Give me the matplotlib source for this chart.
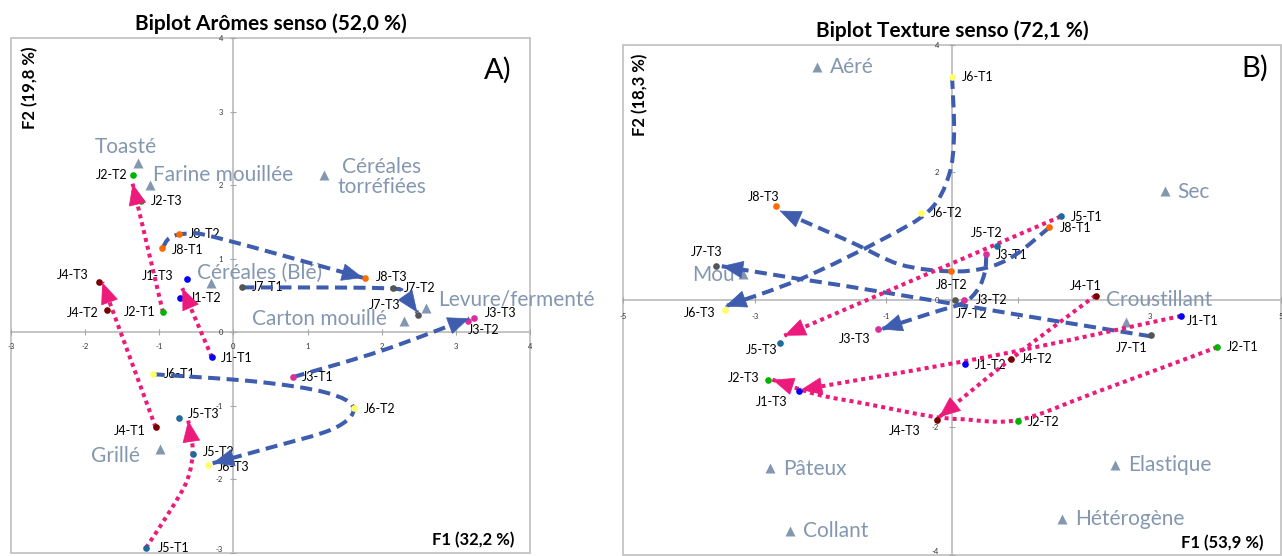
import matplotlib.pyplot as plt
from matplotlib.path import Path
from matplotlib.patches import PathPatch, Rectangle

plt.rcParams['font.family'] = ['Lato', 'DejaVu Sans']

# ---------------- A) Biplot aromes ----------------
a_obs = ["J1-T1", "J1-T2", "J1-T3", "J2-T1", "J2-T2", "J2-T3",
         "J3-T1", "J3-T2", "J3-T3", "J4-T1", "J4-T2", "J4-T3",
         "J5-T1", "J5-T2", "J5-T3", "J6-T1", "J6-T2", "J6-T3",
         "J7-T1", "J7-T2", "J7-T3", "J8-T1", "J8-T2", "J8-T3"]
a_x = [-0.29, -0.72, -0.63, -0.95, -1.35, -1.25,
       0.80, 3.16, 3.24, -1.05, -1.71, -1.82,
       -1.18, -0.55, -0.73, -1.09, 1.62, -0.34,
       0.12, 2.15, 2.49, -0.96, -0.73, 1.77]
a_y = [-0.34, 0.46, 0.72, 0.27, 2.14, 1.78,
       -0.61, 0.16, 0.20, -1.29, 0.30, 0.69,
       -2.93, -1.66, -1.17, -0.57, -1.03, -1.80,
       0.61, 0.60, 0.23, 1.14, 1.33, 0.74]

a_var = ["Toasté", "Farine mouillée", "Céréales\ntorréfiées", "Céréales (Blé)",
         "Carton mouillé", "Levure/fermenté", "Grillé"]
a_var_x = [-1.29, -1.13, 1.22, -0.30, 2.30, 2.60, -0.99]
a_var_y = [2.30, 2.00, 2.14, 0.67, 0.16, 0.33, -1.59]

# trajectories T1 -> T3 (waypoints)
a_blue = {
    "J8": ([-0.96, -0.85, -0.60, -0.20, 1.75], [1.14, 1.29, 1.34, 1.28, 0.74]),
    "J7": ([0.12, 2.00, 2.30, 2.48], [0.61, 0.60, 0.53, 0.27]),
    "J3": ([0.80, 2.00, 3.18], [-0.61, -0.25, 0.19]),
    "J6": ([-1.09, 0.30, 1.25, 1.62, 1.35, 0.45, -0.28],
           [-0.57, -0.67, -0.82, -1.03, -1.31, -1.58, -1.78]),
}
a_pink = {
    "J4": ([-1.05, -1.77], [-1.29, 0.68]),
    "J2": ([-0.95, -1.36], [0.27, 2.02]),
    "J1": ([-0.29, -0.69], [-0.34, 0.60]),
    "J5": ([-1.18, -0.85, -0.62, -0.55, -0.61], [-2.93, -2.42, -2.00, -1.60, -1.20]),
}

# ---------------- B) Biplot texture ----------------
b_obs = a_obs
b_x = [3.48, 0.20, -2.33, 4.03, 1.00, -2.80,
       0.52, 0.18, -1.12, 2.18, 0.89, -0.23,
       1.65, 0.68, -2.61, 0.00, -0.47, -3.45,
       3.02, 0.05, -3.58, 1.48, -0.02, -2.68]
b_y = [-0.25, -1.01, -1.43, -0.74, -1.90, -1.26,
       0.72, 0.00, -0.46, 0.07, -0.93, -1.89,
       1.31, 0.84, -0.68, 3.50, 1.36, -0.15,
       -0.55, 0.00, 0.53, 1.14, 0.45, 1.47]

b_var = ["Aéré", "Sec", "Mou", "Croustillant", "Pâteux", "Elastique", "Collant", "Hétérogène"]
b_var_x = [-2.05, 3.23, -3.18, 2.65, -2.77, 2.48, -2.47, 1.67]
b_var_y = [3.65, 1.71, 0.40, -0.35, -2.63, -2.59, -3.63, -3.43]

b_blue = {
    "J6": ([0.00, 0.03, -0.05, -0.35, -1.06, -2.30, -3.45],
           [3.50, 2.60, 1.95, 1.40, 0.95, 0.33, -0.10]),
    "J8": ([1.48, 0.95, 0.50, -0.05, -0.80, -1.56, -2.62],
           [1.14, 0.70, 0.50, 0.45, 0.56, 0.92, 1.40]),
    "J7": ([3.02, 1.58, 0.36, -1.56, -2.32, -3.50],
           [-0.57, -0.33, -0.12, 0.21, 0.33, 0.53]),
    "J3": ([0.52, 0.50, 0.40, 0.18, -0.30, -1.08],
           [0.72, 0.45, 0.18, -0.04, -0.20, -0.46]),
}
b_pink = {
    "J5": ([1.65, -2.55], [1.31, -0.56]),
    "J1": ([3.48, 0.60, -2.30], [-0.25, -0.88, -1.41]),
    "J2": ([4.03, 2.18, 1.02, 0.15, -0.35, -1.30, -2.06, -2.73],
           [-0.74, -1.45, -1.88, -1.87, -1.82, -1.63, -1.48, -1.25]),
    "J4": ([2.18, 0.89, -0.20], [0.07, -0.93, -1.84]),
}

# ---------------- styles ----------------
judge_col = {"J1": "#0000FF", "J2": "#00B300", "J3": "#D8309A", "J4": "#7A0000",
             "J5": "#1F6C9C", "J6": "#FFFF66", "J7": "#555555", "J8": "#FF6A00"}
BLUE = "#3F5DAE"
PINK = "#EC1A7A"
VARC = "#8497B0"

# label offsets in pixels (dx, dy, ha)
a_off = {"J1-T1": (9, -1, 'left'), "J1-T2": (10, 0, 'left'), "J1-T3": (-13, 3, 'right'),
         "J2-T1": (-8, 0, 'right'), "J2-T2": (-6, 0, 'right'), "J2-T3": (10, 0, 'left'),
         "J3-T1": (9, 0, 'left'), "J3-T2": (0, -9, 'left'), "J3-T3": (11, 5, 'left'),
         "J4-T1": (-10, -4, 'right'), "J4-T2": (-8, -3, 'right'), "J4-T3": (-10, 7, 'right'),
         "J5-T1": (12, 0, 'left'), "J5-T2": (10, 2, 'left'), "J5-T3": (9, 4, 'left'),
         "J6-T1": (11, 0, 'left'), "J6-T2": (10, -1, 'left'), "J6-T3": (10, -2, 'left'),
         "J7-T1": (10, 0, 'left'), "J7-T2": (11, 0, 'left'), "J7-T3": (-18, 10, 'right'),
         "J8-T1": (10, -2, 'left'), "J8-T2": (10, 0, 'left'), "J8-T3": (11, 1, 'left')}
b_off = {"J1-T1": (6, -5, 'left'), "J1-T2": (10, -1, 'left'), "J1-T3": (-11, -11, 'right'),
         "J2-T1": (10, 0, 'left'), "J2-T2": (10, -1, 'left'), "J2-T3": (-8, 2, 'right'),
         "J3-T1": (10, -1, 'left'), "J3-T2": (12, 0, 'left'), "J3-T3": (-8, -10, 'right'),
         "J4-T1": (-10, 10, 'center'), "J4-T2": (10, 0, 'left'), "J4-T3": (-16, -11, 'right'),
         "J5-T1": (10, -1, 'left'), "J5-T2": (-10, 13, 'center'), "J5-T3": (-3, -7, 'right'),
         "J6-T1": (10, 0, 'left'), "J6-T2": (10, 0, 'left'), "J6-T3": (-10, -3, 'right'),
         "J7-T1": (-19, -13, 'center'), "J7-T2": (1, -14, 'left'), "J7-T3": (-10, 14, 'center'),
         "J8-T1": (10, -1, 'left'), "J8-T2": (1, -14, 'center'), "J8-T3": (-12, 9, 'center')}
a_var_off = [(-12, 16, 'center'), (3, 10, 'left'), (58, -2, 'center'), (-14, 10, 'left'),
             (-17, 2, 'right'), (12, 8, 'left'), (-20, -7, 'right')]
b_var_off = [(13, 0, 'left'), (13, -1, 'left'), (-8, -1, 'right'), (-20, 22, 'left'),
             (13, -1, 'left'), (13, 0, 'left'), (13, 0, 'left'), (13, 0, 'left')]


def smooth(xs, ys):
    pts = list(zip(xs, ys))
    n = len(pts)
    verts, codes = [pts[0]], [Path.MOVETO]
    for i in range(n - 1):
        p0 = pts[i - 1] if i > 0 else pts[i]
        p1, p2 = pts[i], pts[i + 1]
        p3 = pts[i + 2] if i + 2 < n else pts[i + 1]
        c1 = (p1[0] + (p2[0] - p0[0]) / 6, p1[1] + (p2[1] - p0[1]) / 6)
        c2 = (p2[0] - (p3[0] - p1[0]) / 6, p2[1] - (p3[1] - p1[1]) / 6)
        verts += [c1, c2, p2]
        codes += [Path.CURVE4] * 3
    return Path(verts, codes)


def trajectory(ax, xs, ys, color, ls):
    ax.add_patch(PathPatch(smooth(xs, ys), fill=False, ec=color, lw=2.9, ls=ls,
                           zorder=3, capstyle='butt'))
    x1, y1, x0, y0 = xs[-1], ys[-1], xs[-2], ys[-2]
    d = ((x0 - x1) ** 2 + (y0 - y1) ** 2) ** 0.5
    ax.annotate('', xy=(x1, y1), xytext=(x1 + (x0 - x1) / d * 0.01, y1 + (y0 - y1) / d * 0.01),
                arrowprops=dict(arrowstyle='-|>,head_length=1.45,head_width=0.6',
                                mutation_scale=10, color=color, lw=0.5,
                                shrinkA=0, shrinkB=0), zorder=5)


def panel(ax, xlim, ylim, xt, yt, obs, xs, ys, off, var, vx, vy, voff, blue, pink,
          title, xlab, ylab, letter, tpad):
    ax.set_xlim(*xlim)
    ax.set_ylim(*ylim)
    for s in ['top', 'right']:
        ax.spines[s].set_visible(False)
    for s in ['left', 'bottom']:
        ax.spines[s].set_position(('data', 0))
        ax.spines[s].set_color('#BFBFBF')
        ax.spines[s].set_linewidth(1.3)
        ax.spines[s].set_zorder(1)
    ax.add_patch(Rectangle((0, 0), 1, 1, transform=ax.transAxes, fill=False,
                           ec='#BFBFBF', lw=1.2, clip_on=False, zorder=1))
    ax.set_xticks(xt)
    ax.set_yticks(yt)
    ax.set_xticklabels([f"{t:g}" for t in xt])
    ax.set_yticklabels([f"{t:g}" for t in yt])
    ax.tick_params(direction='inout', length=5, width=0.8, color='#A6A6A6',
                   labelsize=5.5, labelcolor='#333333', pad=tpad)
    # keep the lowest y tick label inside the figure
    ax.get_yticklabels()[0].set_va('bottom')

    for name, (px, py) in blue.items():
        trajectory(ax, px, py, BLUE, (0, (3.0, 1.6)))
    for name, (px, py) in pink.items():
        trajectory(ax, px, py, PINK, (0, (1.0, 1.0)))

    for name, x, y in zip(obs, xs, ys):
        ax.plot(x, y, 'o', ms=4.8, color=judge_col[name[:2]], mec='none', zorder=4)
        dx, dy, ha = off[name]
        ax.annotate(name, (x, y), xytext=(dx, dy), textcoords='offset pixels',
                    ha=ha, va='center', fontsize=9, color='black', zorder=2)

    ax.plot(vx, vy, '^', ms=7, color=VARC, mec='none', zorder=2)
    for name, x, y, (dx, dy, ha) in zip(var, vx, vy, voff):
        ax.annotate(name, (x, y), xytext=(dx, dy), textcoords='offset pixels',
                    ha=ha, va='center', fontsize=15, color=VARC, zorder=2,
                    multialignment='center', linespacing=1.0)

    ax.set_title(title, fontsize=15, fontweight='bold', pad=6)
    ax.text(*ylab[1], ylab[0], transform=ax.transAxes, rotation=90, ha='center',
            va='center', fontsize=12, fontweight='bold')
    ax.text(*xlab[1], xlab[0], transform=ax.transAxes, ha='center', va='center',
            fontsize=12, fontweight='bold')
    ax.text(*letter[1], letter[0], transform=ax.transAxes, ha='center', va='center',
            fontsize=21)


fig = plt.figure(figsize=(12.82, 5.56), dpi=100)
ax1 = fig.add_axes([0.0086, 0.0054, 0.4048, 0.9263])
ax2 = fig.add_axes([0.4860, 0.0018, 0.5133, 0.9173])

panel(ax1, (-3, 4), (-3, 4), [-3, -2, -1, 0, 1, 2, 3, 4], [-3, -2, -1, 0, 1, 2, 3, 4],
      a_obs, a_x, a_y, a_off, a_var, a_var_x, a_var_y, a_var_off, a_blue, a_pink,
      "Biplot Arômes senso (52,0 %)", ("F1 (32,2 %)", (0.89, 0.025)),
      ("F2 (19,8 %)", (0.037, 0.903)), ("A)", (0.938, 0.938)), 5)
panel(ax2, (-5, 5), (-4, 4), [-5, -3, -1, 1, 3, 5], [-4, -2, 0, 2, 4],
      b_obs, b_x, b_y, b_off, b_var, b_var_x, b_var_y, b_var_off, b_blue, b_pink,
      "Biplot Texture senso (72,1 %)", ("F1 (53,9 %)", (0.910, 0.0235)),
      ("F2 (18,3 %)", (0.026, 0.902)), ("B)", (0.960, 0.955)), 7)

fig.savefig("out.png", dpi=100)
